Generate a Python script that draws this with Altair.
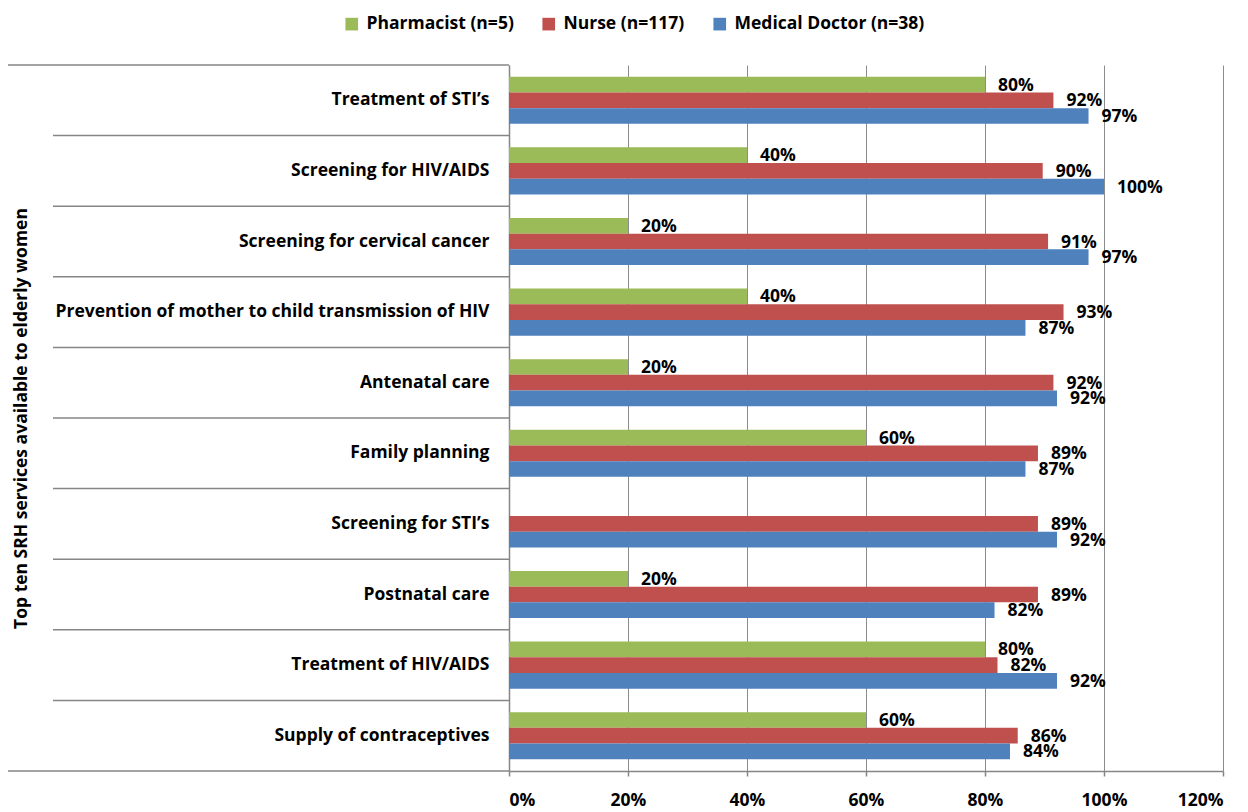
import altair as alt
import pandas as pd

categories = [
    "Treatment of STI\u2019s",
    "Screening for HIV/AIDS",
    "Screening for cervical cancer",
    "Prevention of mother to child transmission of HIV",
    "Antenatal care",
    "Family planning\u00a0",
    "Screening for STI\u2019s",
    "Postnatal care",
    "Treatment of HIV/AIDS\u00a0",
    "Supply of contraceptives",
]
series = ["Pharmacist (n=5)", "Nurse (n=117)", "Medical Doctor (n=38)"]
colors = ["#9BBB59", "#C0504D", "#4F81BD"]

pharmacist = [80, 40, 20, 40, 20, 60, 0, 20, 80, 60]
nurse = [91.5, 89.7, 90.6, 93.2, 91.5, 88.9, 88.9, 88.9, 82.1, 85.5]
doctor = [97.4, 100, 97.4, 86.8, 92.1, 86.8, 92.1, 81.6, 92.1, 84.2]
x_ticks = [0, 20, 40, 60, 80, 100, 120]

rows = []
for s, vals in zip(series, [pharmacist, nurse, doctor]):
    for c, v in zip(categories, vals):
        rows.append({"service": c, "series": s, "value": v})
df = pd.DataFrame(rows)

FONT = "Open Sans"
GRAY = "#868686"
FS = 17.5

y_enc = alt.Y(
    "service:N",
    sort=categories,
    scale=alt.Scale(paddingInner=0, paddingOuter=0),
    axis=alt.Axis(
        title="Top ten SRH services available to elderly women",
        titleFontSize=FS,
        titleFontWeight="bold",
        titleColor="black",
        titleFont=FONT,
        titleX=-479,
        titleY=353,
        labelFont=FONT,
        labelFontSize=FS,
        labelFontWeight="bold",
        labelColor="black",
        labelPadding=20,
        labelLimit=600,
        ticks=False,
        grid=False,
        domainColor=GRAY,
        domainWidth=1.5,
    ),
)
yoff = alt.YOffset(
    "series:N", sort=series, scale=alt.Scale(paddingOuter=0.75, paddingInner=0)
)
x_enc = alt.X(
    "value:Q",
    scale=alt.Scale(domain=[0, 120], nice=False),
    axis=alt.Axis(
        title=None,
        values=x_ticks,
        labelExpr="datum.value + '%'",
        labelFont=FONT,
        labelFontSize=FS,
        labelFontWeight="bold",
        labelColor="black",
        labelPadding=15,
        tickSize=5,
        tickColor=GRAY,
        tickWidth=1.5,
        domainColor=GRAY,
        domainWidth=1.5,
        grid=True,
        gridColor="#8c8c8c",
        gridWidth=1,
    ),
)

base = alt.Chart(df)

bars = base.mark_bar().encode(
    y=y_enc,
    yOffset=yoff,
    x=x_enc,
    color=alt.Color(
        "series:N",
        sort=series,
        scale=alt.Scale(domain=series, range=colors),
        legend=alt.Legend(
            title=None,
            orient="none",
            direction="horizontal",
            legendX=-166,
            legendY=-50,
            labelFont=FONT,
            labelFontSize=FS,
            labelFontWeight="bold",
            labelColor="black",
            labelLimit=400,
            symbolType="square",
            symbolSize=160,
            symbolStrokeWidth=0,
            labelOffset=6,
            columnPadding=26,
            padding=0,
        ),
    ),
)

labels = (
    base.transform_filter("datum.value > 0")
    .transform_calculate(label="round(datum.value) + '%'")
    .mark_text(
        align="left",
        baseline="middle",
        dx=13,
        dy=1,
        font=FONT,
        fontSize=FS,
        fontWeight="bold",
        color="black",
    )
    .encode(y=alt.Y("service:N", sort=categories), yOffset=yoff, x="value:Q", text="label:N")
)

inner_rules = (
    alt.Chart(pd.DataFrame({"service": categories[1:]}))
    .mark_rule(color=GRAY, strokeWidth=1.5)
    .encode(
        y=alt.Y("service:N", sort=categories, bandPosition=0),
        x=alt.value(-456),
        x2=alt.value(0),
    )
)
top_rule = (
    alt.Chart(pd.DataFrame({"service": categories[:1]}))
    .mark_rule(color=GRAY, strokeWidth=1.5)
    .encode(
        y=alt.Y("service:N", sort=categories, bandPosition=0),
        x=alt.value(-502),
        x2=alt.value(0),
    )
)
bottom_rule = (
    alt.Chart(pd.DataFrame({"service": categories[-1:]}))
    .mark_rule(color=GRAY, strokeWidth=1.5)
    .encode(
        y=alt.Y("service:N", sort=categories, bandPosition=1),
        x=alt.value(-502),
        x2=alt.value(0),
    )
)

chart = (
    alt.layer(bars, labels, inner_rules, top_rule, bottom_rule)
    .properties(
        width=714,
        height=706,
        autosize=alt.AutoSizeParams(type="none"),
        padding={"left": 501, "top": 57, "right": 17, "bottom": 40},
        background="white",
    )
    .configure_view(stroke=None)
)

chart.save("out.html", embed_options={"renderer": "svg", "actions": False})
